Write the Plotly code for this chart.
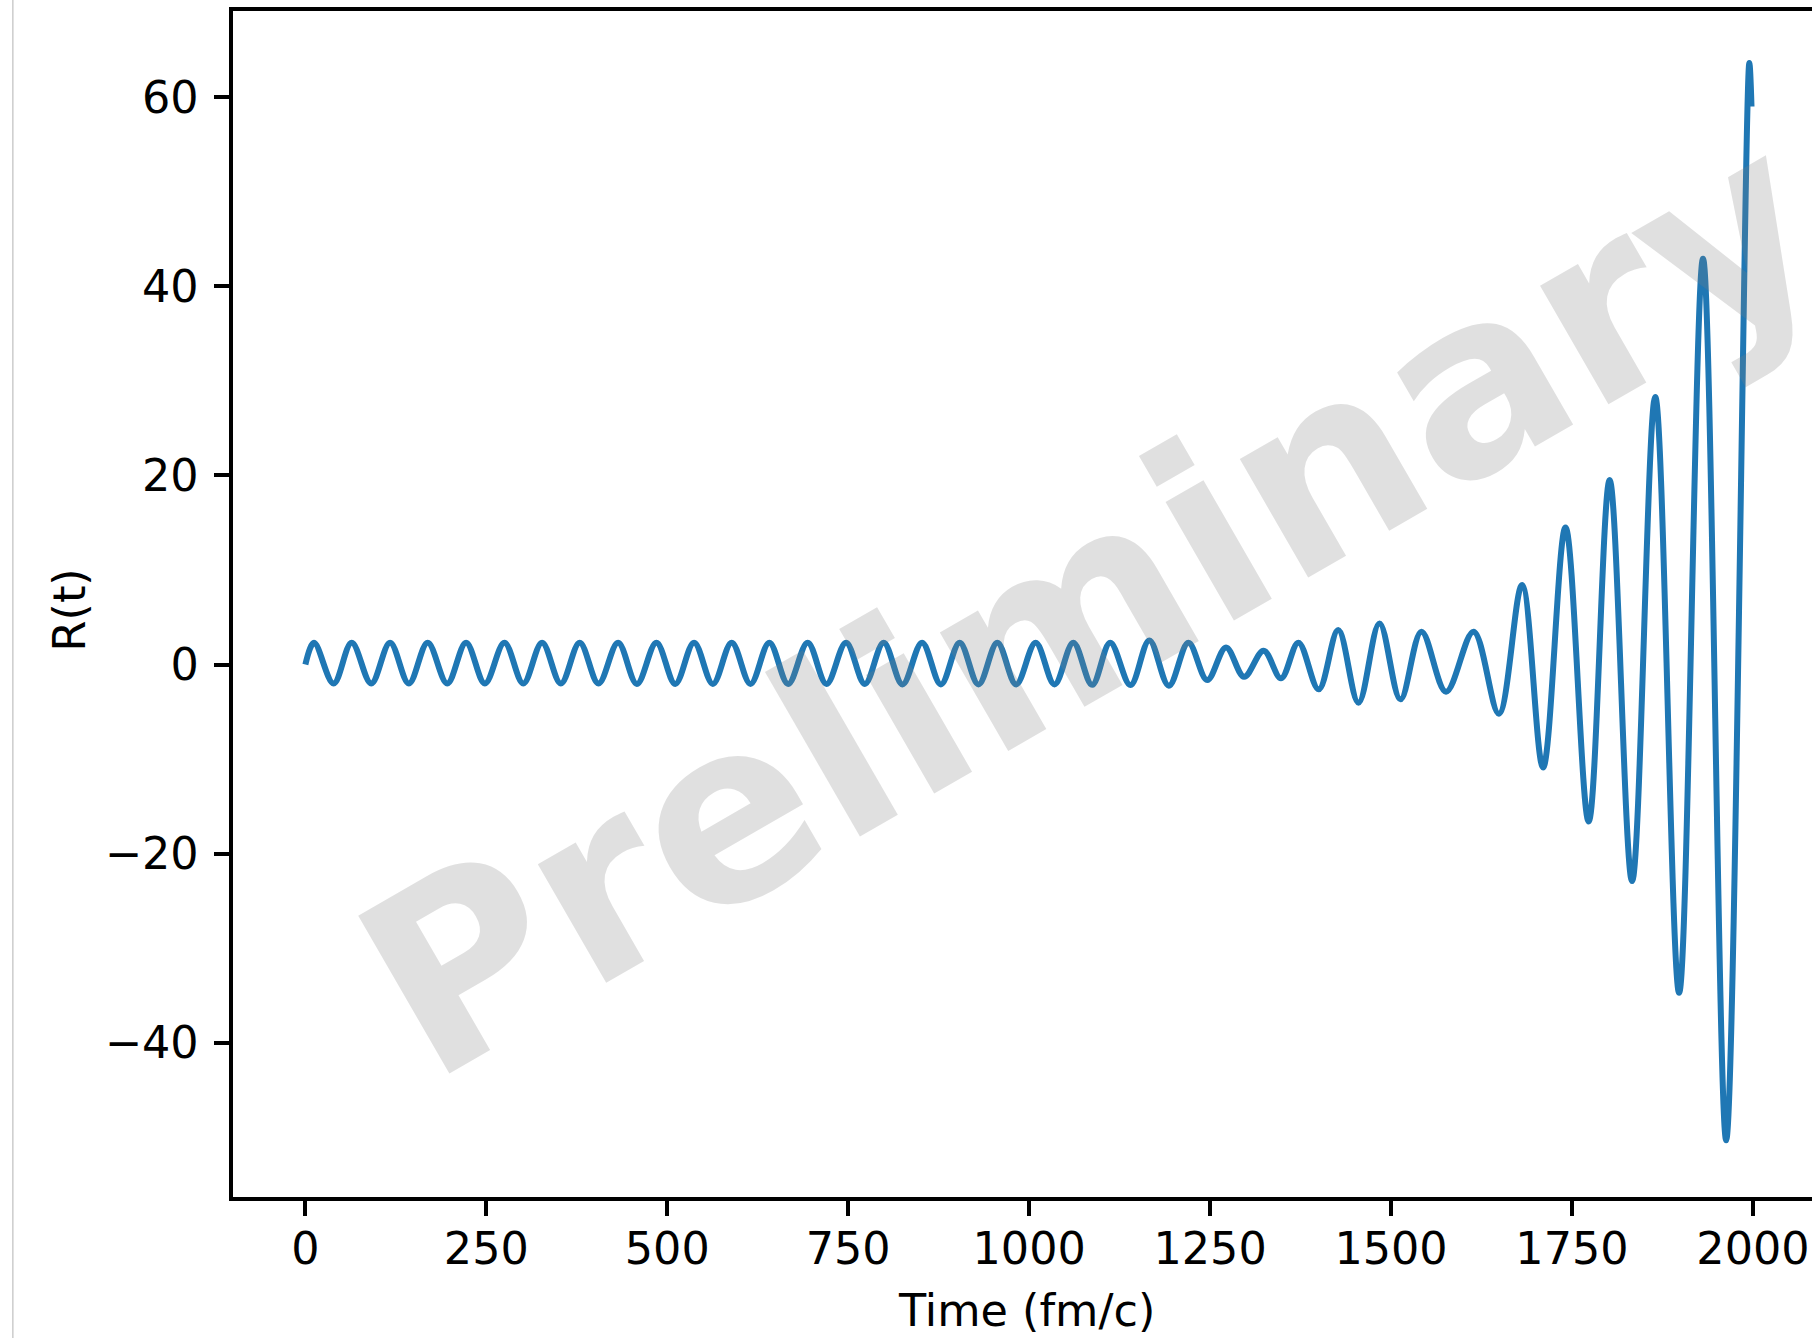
import plotly.graph_objects as go

# ---- data (extrema of R(t)) ----
time_fm_c = [
    0, 12, 39, 64, 91, 117, 143, 169, 196, 222, 248, 275, 301, 327, 353, 379, 405,
    432, 458, 485, 511, 537, 563, 589, 615, 641, 667, 694, 720, 747, 773, 799, 825,
    852, 878, 904, 930, 956, 982, 1009, 1035, 1061, 1087, 1112, 1140, 1166, 1193,
    1220, 1246, 1272, 1297, 1324, 1348, 1372, 1400, 1427, 1455, 1484, 1513, 1542,
    1576, 1614, 1649, 1681, 1710, 1741, 1773, 1802, 1833, 1865, 1898, 1931, 1963,
    1995, 1998,
]
r_values = [
    0.0, 2.3, -2.0, 2.3, -2.0, 2.3, -2.0, 2.3, -2.0, 2.3, -2.0, 2.3, -2.0, 2.3, -2.0, 2.3, -2.0,
    2.3, -2.05, 2.3, -2.05, 2.3, -2.05, 2.3, -2.05, 2.3, -2.05, 2.3, -2.05, 2.3, -2.05, 2.3, -2.1,
    2.3, -2.1, 2.3, -2.1, 2.3, -2.1, 2.3, -2.1, 2.3, -2.15, 2.3, -2.17, 2.55, -2.24,
    2.3, -1.64, 1.81, -1.29, 1.46, -1.46, 2.31, -2.62, 3.64, -4.03, 4.35, -3.68, 3.47,
    -2.87, 3.47, -5.2, 8.4, -10.9, 14.5, -16.6, 19.5, -22.9, 28.3, -34.7, 42.9, -50.3,
    63.6, 59.0,
]
x_tick_values = [0, 250, 500, 750, 1000, 1250, 1500, 1750, 2000]
x_tick_labels = ["0", "250", "500", "750", "1000", "1250", "1500", "1750", "2000"]
y_tick_values = [-40, -20, 0, 20, 40, 60]
y_tick_labels = ["\u221240", "\u221220", "0", "20", "40", "60"]
x_title = "Time (fm/c)"
y_title = "R(t)"
watermark_text = "Preliminary"

# ---- layout geometry ----
W, H = 1812, 1338
L, R, T, B = 232.7, 0, 10.5, 140.6
PW = W - L - R
PH = H - T - B


def px_to_paper(px, py):
    return (px - L) / PW, 1 - (py - T) / PH


FONT = "DejaVu Sans"
FS = 44.5
LW = 3.6

fig = go.Figure(
    go.Scatter(
        x=time_fm_c,
        y=r_values,
        mode="lines",
        line=dict(color="#1f77b4", width=6.0, shape="spline", smoothing=1),
        hoverinfo="skip",
        showlegend=False,
    )
)

axis_common = dict(
    ticks="outside",
    ticklen=15.6,
    tickwidth=LW,
    tickcolor="black",
    showline=True,
    linecolor="black",
    linewidth=LW,
    showgrid=False,
    zeroline=False,
    tickfont=dict(family=FONT, size=FS, color="black"),
    tickmode="array",
)

fig.update_xaxes(
    range=[-100, 2081.6],
    tickvals=x_tick_values,
    ticktext=x_tick_labels,
    mirror=True,
    ticklabelstandoff=-6,
    **axis_common,
)
fig.update_yaxes(
    range=[-56.3, 69.1],
    tickvals=y_tick_values,
    ticktext=y_tick_labels,
    mirror=False,
    ticklabelstandoff=6,
    **axis_common,
)

annotations = []
wx, wy = px_to_paper(1090, 603)
annotations.append(dict(
    x=wx, y=wy, xref="paper", yref="paper", text=watermark_text, showarrow=False,
    textangle=-30, xanchor="center", yanchor="middle",
    font=dict(family=FONT, size=250, weight="bold", color="rgba(128,128,128,0.245)"),
))
tx, ty = px_to_paper(1026, 1311)
annotations.append(dict(
    x=tx, y=ty, xref="paper", yref="paper", text=x_title, showarrow=False,
    xanchor="center", yanchor="middle",
    font=dict(family=FONT, size=FS, color="black"),
))
lx, ly = px_to_paper(69, 610)
annotations.append(dict(
    x=lx, y=ly, xref="paper", yref="paper", text=y_title, showarrow=False,
    textangle=-90, xanchor="center", yanchor="middle",
    font=dict(family=FONT, size=FS, color="black"),
))

bx, _ = px_to_paper(12.5, 0)
shapes = [dict(
    type="line", xref="paper", yref="paper", x0=bx, x1=bx, y0=-0.3, y1=1.2,
    line=dict(color="#cccccc", width=1.5),
)]

fig.update_layout(
    width=W,
    height=H,
    margin=dict(l=L, r=R, t=T, b=B, pad=0),
    paper_bgcolor="white",
    plot_bgcolor="white",
    annotations=annotations,
    shapes=shapes,
    showlegend=False,
    hovermode=False,
)

fig.write_html(
    "out.html",
    config={"displayModeBar": False},
    post_script="document.body.style.margin='0px';",
)
